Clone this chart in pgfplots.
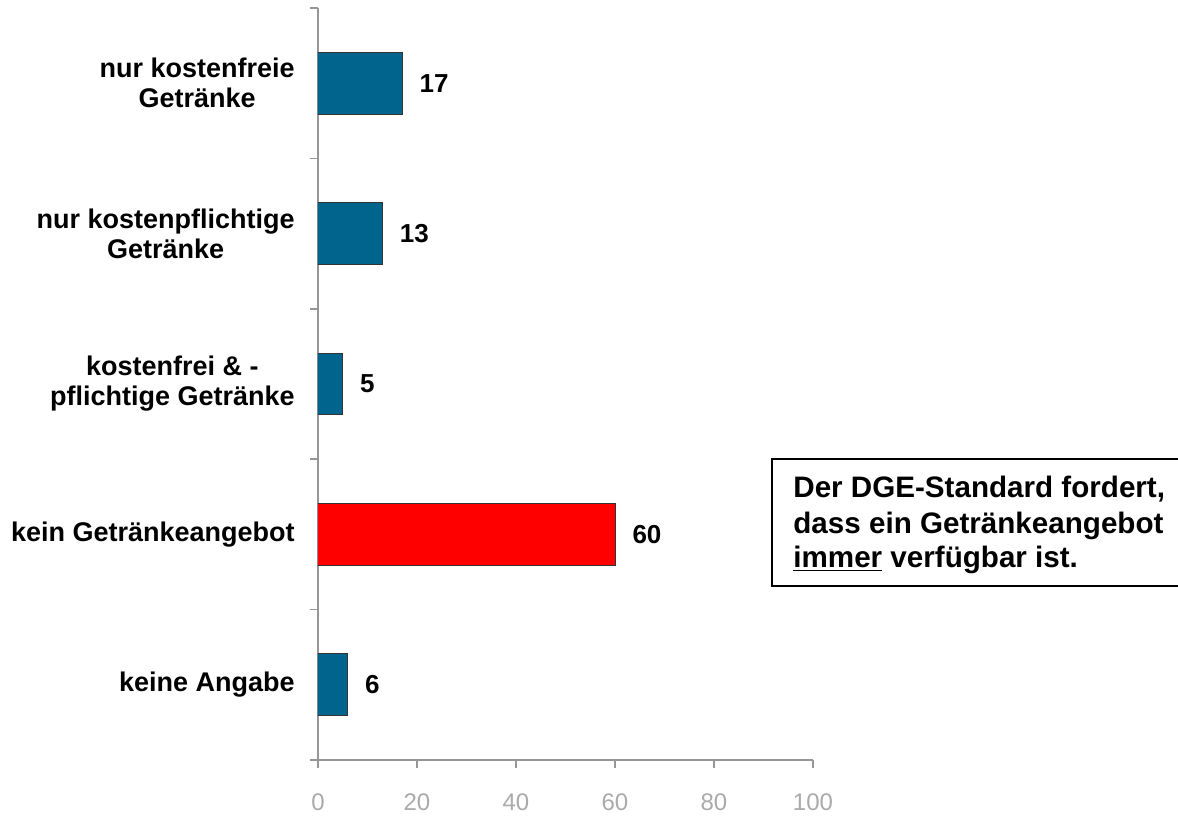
\documentclass[border=0pt]{standalone}
\usepackage{pgfplots}
\pgfplotsset{compat=1.18}
\usepackage{fontspec}
\setmainfont{Liberation Sans}
\definecolor{barblue}{RGB}{0,100,140}
\definecolor{axgray}{RGB}{150,150,150}
\definecolor{labgray}{RGB}{170,170,170}
\begin{document}
\begin{tikzpicture}
\useasboundingbox (0,0) rectangle (589pt,407.5pt);
\begin{axis}[
  at={(159pt,27.5pt)}, anchor=south west,
  scale only axis, width=247.5pt, height=376pt,
  xbar, bar width=0.41,
  xmin=0, xmax=100, ymin=-0.5, ymax=4.5,
  axis x line*=bottom, axis y line*=left,
  axis line style={axgray, line width=0.8pt, -},
  tick align=outside,
  major tick length=4pt,
  tick style={axgray, line width=0.8pt},
  xtick={0,20,...,100},
  xticklabel style={labgray, font=\fontsize{12}{14}\selectfont, inner sep=0pt, yshift=-12.5pt},
  /pgf/number format/assume math mode=true,
  ytick={-0.5,0.5,1.5,2.5,3.5,4.5}, yticklabels={},
  extra y ticks={0,1,2,3,4},
  extra y tick labels={keine Angabe, kein Getränkeangebot, {kostenfrei \& -\\pflichtige Getränke}, {nur kostenpflichtige\\Getränke}, {nur kostenfreie\\Getränke}},
  extra y tick style={major tick length=0pt},
  yticklabel style={align=center, font=\bfseries\fontsize{13.5}{15}\selectfont, inner sep=0pt, xshift=-11.5pt},
  nodes near coords,
  nodes near coords style={font=\bfseries\fontsize{13}{15}\selectfont, black, inner sep=0pt, anchor=west, xshift=8.5pt},
]
\addplot[xbar, fill=barblue, draw=black!80, line width=0.5pt, bar shift=0pt]
  coordinates {(6,0) (5,2) (13,3) (17,4)};
\addplot[xbar, fill=red, draw=black!80, line width=0.5pt, bar shift=0pt]
  coordinates {(60,1)};
\end{axis}
\draw[line width=1.2pt] (386pt,114.5pt) rectangle (595pt,178pt);
\begin{scope}[every node/.style={anchor=base west, inner sep=0pt, font=\bfseries\fontsize{14.8}{17.5}\selectfont}]
\node at (396.5pt,159pt) {Der DGE-Standard fordert,};
\node at (396.5pt,141pt) {dass ein Getränkeangebot};
\node at (396.5pt,124pt) {\underline{immer} verfügbar ist.};
\end{scope}
\end{tikzpicture}
\end{document}
